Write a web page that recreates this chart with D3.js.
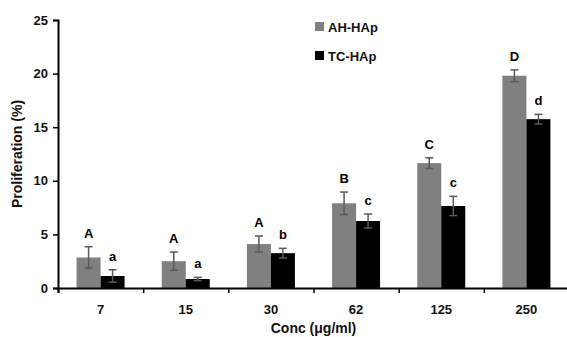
<!DOCTYPE html>
<html>
<head>
<meta charset="utf-8">
<script src="https://cdn.jsdelivr.net/npm/d3@7"></script>
<style>
  body { margin: 0; background: #fff; }
  text { font-family: "Liberation Sans", Arial, sans-serif; font-weight: bold; }
</style>
</head>
<body>
<div id="chart"></div>
<script>
// values
const concs = ["7", "15", "30", "62", "125", "250"];
const seriesNames = ["AH-HAp", "TC-HAp"];
const ahMeans = [2.85, 2.5, 4.1, 7.9, 11.65, 19.8];
const ahErrors = [1.0, 0.85, 0.75, 1.05, 0.5, 0.55];
const ahLetters = ["A", "A", "A", "B", "C", "D"];
const tcMeans = [1.12, 0.84, 3.25, 6.25, 7.65, 15.75];
const tcErrors = [0.58, 0.15, 0.45, 0.65, 0.9, 0.45];
const tcLetters = ["a", "a", "b", "c", "c", "d"];
const yTicks = [0, 5, 10, 15, 20, 25];

const colors = { "AH-HAp": "#808080", "TC-HAp": "#000000" };

const width = 567, height = 337;
const margin = { top: 20, right: -2, bottom: 49, left: 58 };

const svg = d3.select("#chart").append("svg")
  .attr("width", width)
  .attr("height", height);

const x = d3.scaleBand()
  .domain(concs)
  .range([margin.left, width - margin.right]);

const xs = d3.scaleBand()
  .domain(seriesNames)
  .range([x.bandwidth() / 2 - 24, x.bandwidth() / 2 + 24]);

const y = d3.scaleLinear()
  .domain([0, 25])
  .range([height - margin.bottom, margin.top]);

// build rows for drawing
const rows = [];
concs.forEach((c, i) => {
  rows.push({ conc: c, series: "AH-HAp", mean: ahMeans[i], err: ahErrors[i], letter: ahLetters[i] });
  rows.push({ conc: c, series: "TC-HAp", mean: tcMeans[i], err: tcErrors[i], letter: tcLetters[i] });
});

// bars
svg.selectAll(".bar")
  .data(rows)
  .enter()
  .append("rect")
  .attr("class", "bar")
  .attr("x", d => x(d.conc) + xs(d.series))
  .attr("y", d => y(d.mean))
  .attr("width", xs.bandwidth())
  .attr("height", d => y(0) - y(d.mean))
  .attr("fill", d => colors[d.series]);

// error bars
const eb = svg.selectAll(".err")
  .data(rows)
  .enter()
  .append("g")
  .attr("class", "err")
  .attr("transform", d => `translate(${x(d.conc) + xs(d.series) + xs.bandwidth() / 2},0)`)
  .attr("stroke", "#5a5a5a")
  .attr("stroke-width", 1.5);

eb.append("line")
  .attr("y1", d => y(d.mean - d.err))
  .attr("y2", d => y(d.mean + d.err));
eb.append("line")
  .attr("x1", -4).attr("x2", 4)
  .attr("y1", d => y(d.mean + d.err))
  .attr("y2", d => y(d.mean + d.err));
eb.append("line")
  .attr("x1", -4).attr("x2", 4)
  .attr("y1", d => y(d.mean - d.err))
  .attr("y2", d => y(d.mean - d.err));

// letters
svg.selectAll(".letter")
  .data(rows)
  .enter()
  .append("text")
  .attr("class", "letter")
  .attr("x", d => x(d.conc) + xs(d.series) + xs.bandwidth() / 2)
  .attr("y", d => y(d.mean + d.err) - 9)
  .attr("text-anchor", "middle")
  .attr("font-size", "13px")
  .attr("fill", "#000")
  .text(d => d.letter);

// y axis
const yAxis = svg.append("g")
  .attr("transform", `translate(${margin.left},0)`)
  .call(d3.axisLeft(y).tickValues(yTicks).tickSize(5).tickPadding(5));
yAxis.select(".domain").attr("stroke-width", 2);
yAxis.selectAll(".tick line").attr("stroke-width", 1.5);
yAxis.selectAll("text").attr("font-size", "13px").attr("fill", "#111");

// x axis: tick marks on category boundaries
const xEdges = d3.scaleLinear()
  .domain([0, concs.length])
  .range(x.range());
const xAxis = svg.append("g")
  .attr("transform", `translate(0,${y(0)})`)
  .call(d3.axisBottom(xEdges).tickValues(d3.range(concs.length)).tickSize(5).tickFormat(""));
xAxis.select(".domain").attr("stroke-width", 2);
xAxis.selectAll(".tick line").attr("stroke-width", 1.5);

const xLabels = svg.append("g")
  .attr("transform", `translate(0,${y(0)})`)
  .call(d3.axisBottom(x).tickSize(0).tickPadding(17));
xLabels.select(".domain").remove();
xLabels.selectAll("text").attr("font-size", "13px").attr("fill", "#111");

// axis titles
svg.append("text")
  .attr("x", (margin.left + width - margin.right) / 2)
  .attr("y", 333)
  .attr("text-anchor", "middle")
  .attr("font-size", "14px")
  .attr("fill", "#111")
  .text("Conc (μg/ml)");

svg.append("text")
  .attr("transform", "translate(22,154) rotate(-90)")
  .attr("text-anchor", "middle")
  .attr("font-size", "14px")
  .attr("fill", "#111")
  .text("Proliferation (%)");

// legend
const legend = svg.append("g")
  .attr("transform", "translate(315,22)");
seriesNames.forEach((s, i) => {
  legend.append("rect")
    .attr("x", 0)
    .attr("y", i * 29)
    .attr("width", 9)
    .attr("height", 9)
    .attr("fill", colors[s]);
  legend.append("text")
    .attr("x", 13)
    .attr("y", i * 29 + 9.5)
    .attr("font-size", "13px")
    .attr("fill", "#111")
    .text(s);
});
</script>
</body>
</html>
